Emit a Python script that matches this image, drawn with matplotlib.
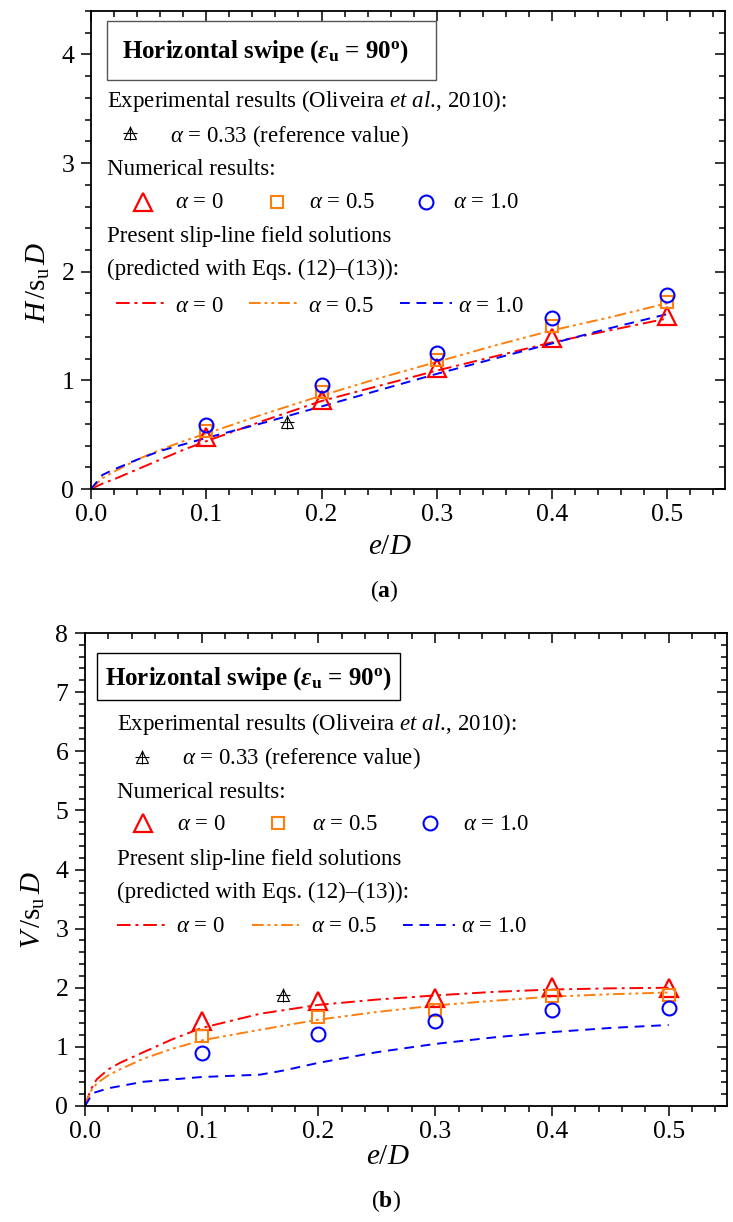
import matplotlib
matplotlib.use("Agg")
import matplotlib.pyplot as plt
from matplotlib.patches import Rectangle
from matplotlib.ticker import MultipleLocator

plt.rcParams['font.family'] = ['Liberation Serif', 'DejaVu Serif']
plt.rcParams['mathtext.fontset'] = 'custom'
plt.rcParams['mathtext.rm'] = 'Liberation Serif'
plt.rcParams['mathtext.it'] = 'Liberation Serif:italic'
plt.rcParams['mathtext.bf'] = 'Liberation Serif:bold'
plt.rcParams['mathtext.bfit'] = 'Liberation Serif:italic:bold'

# numerical results (markers)
e_num = [0.1, 0.2, 0.3, 0.4, 0.5]
H_a0 = [0.48, 0.82, 1.11, 1.39, 1.59]
H_a05 = [0.535, 0.89, 1.19, 1.50, 1.72]
H_a1 = [0.59, 0.96, 1.25, 1.57, 1.79]
V_a0 = [1.43, 1.77, 1.83, 2.02, 2.00]
V_a05 = [1.18, 1.51, 1.62, 1.86, 1.88]
V_a1 = [0.89, 1.21, 1.43, 1.62, 1.65]

# experimental (Oliveira et al., 2010)
e_exp = [0.17]
H_exp = [0.62]
V_exp = [1.87]

# slip-line field solutions (curves)
e_H = [0, 0.01, 0.02, 0.04, 0.06, 0.08, 0.1, 0.15, 0.2, 0.25, 0.3, 0.35, 0.4, 0.45, 0.5]
H_sl_a0 = [0, 0.05, 0.09, 0.18, 0.27, 0.36, 0.44, 0.63, 0.81, 0.95, 1.09, 1.22, 1.35, 1.46, 1.57]
H_sl_a05 = [0, 0.10, 0.16, 0.27, 0.36, 0.44, 0.51, 0.69, 0.86, 1.02, 1.17, 1.32, 1.46, 1.58, 1.71]
H_sl_a1 = [0, 0.13, 0.18, 0.27, 0.35, 0.41, 0.47, 0.61, 0.76, 0.91, 1.06, 1.20, 1.34, 1.48, 1.61]

e_V = [0, 0.005, 0.01, 0.02, 0.03, 0.05, 0.075, 0.1, 0.15, 0.2, 0.25, 0.3, 0.35, 0.4, 0.45, 0.5]
V_sl_a0 = [0, 0.28, 0.45, 0.62, 0.73, 0.91, 1.13, 1.32, 1.56, 1.71, 1.80, 1.87, 1.93, 1.97, 1.99, 2.0]
V_sl_a05 = [0, 0.25, 0.38, 0.52, 0.62, 0.80, 0.97, 1.11, 1.29, 1.46, 1.59, 1.70, 1.78, 1.85, 1.89, 1.92]
e_V1 = [0, 0.003, 0.007, 0.02, 0.05, 0.1, 0.15, 0.17, 0.2, 0.25, 0.3, 0.35, 0.4, 0.45, 0.5]
V_sl_a1 = [0, 0.10, 0.22, 0.30, 0.41, 0.49, 0.53, 0.60, 0.73, 0.91, 1.05, 1.16, 1.25, 1.32, 1.37]

RED = '#ff0000'
ORANGE = '#ff7f0e'
BLUE = '#0000ff'
ls_a0 = (0, (7, 2.5, 1.5, 2.5))
ls_a05 = (0, (6, 2, 1.5, 2, 1.5, 2))
ls_a1 = (0, (5, 3.5))

W, H = 733, 1222
fig = plt.figure(figsize=(W / 100, H / 100), dpi=100)


def P(x, y):
    # figure pixel -> figure fraction
    return x / W, 1 - y / H


def make_axes(l, t, r, b):
    return fig.add_axes([l / W, 1 - b / H, (r - l) / W, (b - t) / H])


def style_axes(ax, ymax, yminor):
    ax.set_xlim(0, 0.55)
    ax.set_ylim(0, ymax)
    ax.xaxis.set_major_locator(MultipleLocator(0.1))
    ax.xaxis.set_minor_locator(MultipleLocator(0.02))
    ax.yaxis.set_major_locator(MultipleLocator(1))
    ax.yaxis.set_minor_locator(MultipleLocator(yminor))
    ax.xaxis.set_major_formatter(plt.FuncFormatter(lambda v, p: '%.1f' % v))
    ax.yaxis.set_major_formatter(plt.FuncFormatter(lambda v, p: '%d' % round(v)))
    ax.tick_params(which='both', top=True, right=True, labelsize=18.5, width=1.1)
    ax.tick_params(which='major', length=7)
    ax.tick_params(which='minor', length=4)
    ax.tick_params(axis='x', which='both', bottom=True, direction='out', pad=4)
    ax.tick_params(axis='y', which='both', left=True, direction='out', pad=5)
    # top/right mirrored ticks point inwards
    for t in ax.xaxis.get_major_ticks() + ax.xaxis.get_minor_ticks():
        t.tick2line.set_marker(3)
    for t in ax.yaxis.get_major_ticks() + ax.yaxis.get_minor_ticks():
        t.tick2line.set_marker(0)
    for s in ax.spines.values():
        s.set_linewidth(1.3)


def draw_data(ax, yn0, yn05, yn1, yexp, xs0, ys0, xs05, ys05, xs1, ys1):
    ax.plot(xs0, ys0, color=RED, ls=ls_a0, lw=1.4)
    ax.plot(xs05, ys05, color=ORANGE, ls=ls_a05, lw=1.4)
    ax.plot(xs1, ys1, color=BLUE, ls=ls_a1, lw=1.4)
    ax.plot(e_num, yn0, ls='none', marker='^', ms=12.5, mfc='none', mec=RED, mew=1.6)
    ax.plot(e_num, yn05, ls='none', marker='s', ms=9, mfc='none', mec=ORANGE, mew=1.5)
    ax.plot(e_num, yn1, ls='none', marker='o', ms=10, mfc='none', mec=BLUE, mew=1.5)
    ax.plot(e_exp, yexp, ls='none', marker='^', ms=8, mfc='none', mec='k', mew=0.8)
    ax.plot(e_exp, yexp, ls='none', marker='+', ms=10, mec='k', mew=0.8)


def fig_marker(x, y, **kw):
    fx, fy = P(x, y)
    fig.lines.append(plt.Line2D([fx], [fy], transform=fig.transFigure, ls='none', **kw))


def fig_line(x0, x1, y, **kw):
    fx0, fy = P(x0, y)
    fx1, _ = P(x1, y)
    fig.lines.append(plt.Line2D([fx0, fx1], [fy, fy], transform=fig.transFigure, **kw))


def ftext(x, y, s, **kw):
    fx, fy = P(x, y)
    fig.text(fx, fy, s, va='baseline', **kw)


def legend_block(box, tx, ty, rows, ex, nm, lines):
    bl, bt, br, bb, ec = box
    fx, fy = P(bl, bb)
    fig.patches.append(Rectangle((fx, fy), (br - bl) / W, (bb - bt) / H,
                                 transform=fig.transFigure, fill=False,
                                 ec=ec, lw=1.0))
    ftext(tx, ty, r'Horizontal swipe ($\mathbfit{\varepsilon}_{\mathbf{u}}$ = 90$^{\mathbf{o}}$)',
          fontsize=18, fontweight='bold')
    x0 = rows[0]
    fs = 16.5
    ftext(x0, rows[1], r'Experimental results (Oliveira $\mathit{et\ al.}\!$, 2010):', fontsize=fs)
    fig_marker(ex[0], ex[1], marker='^', ms=8, mfc='none', mec='k', mew=0.8)
    fig_marker(ex[0], ex[1], marker='+', ms=10, mec='k', mew=0.8)
    ftext(ex[2], rows[2], r'$\alpha$ = 0.33 (reference value)', fontsize=fs)
    ftext(x0, rows[3], 'Numerical results:', fontsize=fs)
    my, (t_x, t_t), (s_x, s_t), (c_x, c_t) = nm
    fig_marker(t_x, my, marker='^', ms=12.5, mfc='none', mec=RED, mew=1.6)
    fig_marker(s_x, my, marker='s', ms=9, mfc='none', mec=ORANGE, mew=1.5)
    fig_marker(c_x, my, marker='o', ms=10, mfc='none', mec=BLUE, mew=1.5)
    ftext(t_t, rows[4], r'$\alpha$ = 0', fontsize=fs)
    ftext(s_t, rows[4], r'$\alpha$ = 0.5', fontsize=fs)
    ftext(c_t, rows[4], r'$\alpha$ = 1.0', fontsize=fs)
    ftext(x0, rows[5], 'Present slip-line field solutions', fontsize=fs)
    ftext(x0, rows[6], '(predicted with Eqs. (12)\u2013(13)):', fontsize=fs)
    ly, (r0, r1, rt), (o0, o1, ot), (b0, b1, bt_) = lines
    fig_line(r0, r1, ly, color=RED, ls=ls_a0, lw=1.4)
    fig_line(o0, o1, ly, color=ORANGE, ls=ls_a05, lw=1.4)
    fig_line(b0, b1, ly, color=BLUE, ls=ls_a1, lw=1.4)
    ftext(rt, rows[7], r'$\alpha$ = 0', fontsize=fs)
    ftext(ot, rows[7], r'$\alpha$ = 0.5', fontsize=fs)
    ftext(bt_, rows[7], r'$\alpha$ = 1.0', fontsize=fs)


# ---- (a) horizontal load ----
ax1 = make_axes(91, 11, 725, 489)
draw_data(ax1, H_a0, H_a05, H_a1, H_exp, e_H, H_sl_a0, e_H, H_sl_a05, e_H, H_sl_a1)
style_axes(ax1, 4.4, 0.2)
legend_block((107, 21, 436, 80, '#555555'), 122, 58,
             [107, 107, 142, 175, 208, 242, 275, 312],
             (130, 133, 170),
             (202, (143, 175), (277, 309), (426, 453)),
             (303, (116, 168, 175), (249, 297, 308), (400, 452, 458)))
fx, fy = P(38, 282)
fig.text(fx, fy, r'$H\,/\mathrm{s}_{\mathrm{u}}\,D$', fontsize=21, rotation=90, ha='center', va='center')
fx, fy = P(390, 547)
fig.text(fx, fy, r'$e/D$', fontsize=21, ha='center', va='center')
fx, fy = P(384, 591)
fig.text(fx, fy, r'($\mathbf{a}$)', fontsize=17, ha='center', va='center')

# ---- (b) vertical load ----
ax2 = make_axes(85, 633, 727, 1106)
draw_data(ax2, V_a0, V_a05, V_a1, V_exp, e_V, V_sl_a0, e_V, V_sl_a05, e_V1, V_sl_a1)
style_axes(ax2, 8, 0.2)
legend_block((97, 653, 400, 700, 'k'), 105, 685,
             [117, 730, 764, 798, 830, 865, 898, 932],
             (142, 757, 182),
             (823, (143, 177), (278, 312), (430, 463)),
             (925, (117, 169, 176), (252, 299, 311), (403, 455, 461)))
fx, fy = P(33, 910)
fig.text(fx, fy, r'$V\,/\mathrm{s}_{\mathrm{u}}\,D$', fontsize=21, rotation=90, ha='center', va='center')
fx, fy = P(388, 1157)
fig.text(fx, fy, r'$e/D$', fontsize=21, ha='center', va='center')
fx, fy = P(386, 1201)
fig.text(fx, fy, r'($\mathbf{b}$)', fontsize=17, ha='center', va='center')

fig.savefig('out.png', dpi=100)
